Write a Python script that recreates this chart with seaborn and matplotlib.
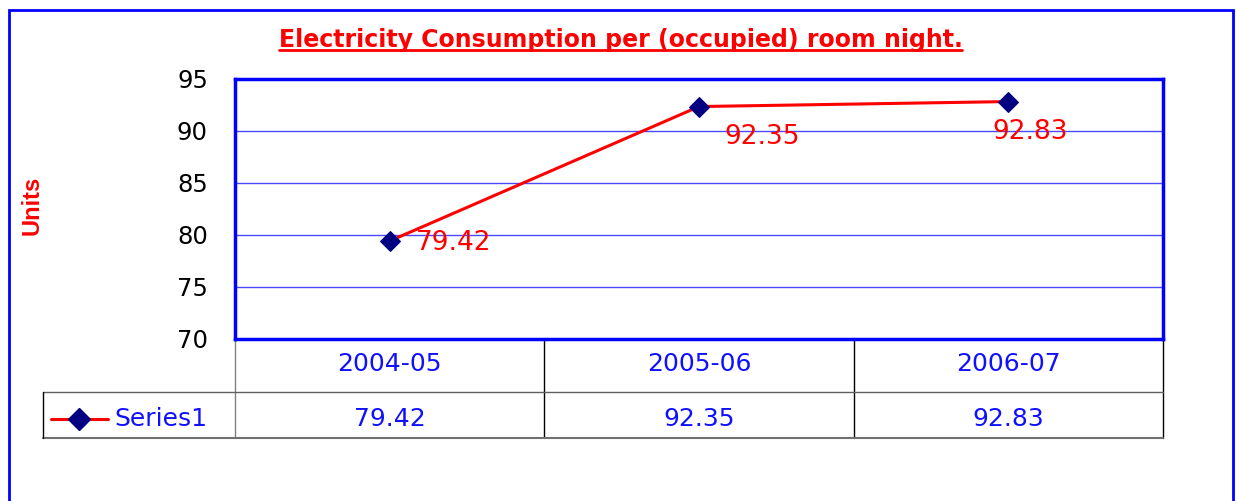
import matplotlib
matplotlib.use("Agg")
import matplotlib.pyplot as plt
import matplotlib.transforms as mtransforms
import seaborn as sns
import pandas as pd

# data
years = ["2004-05", "2005-06", "2006-07"]
values = [79.42, 92.35, 92.83]
yticks = [70, 75, 80, 85, 90, 95]
series_name = "Series1"
title = "Electricity Consumption per (occupied) room night."

# where Excel put each data label, in pixels from its point
label_dx = [26, 25, -16]
label_dy = [-2, -30, -30]

df = pd.DataFrame({"year": years, "units": values})

sns.set_style("white")
plt.rcParams["font.family"] = ["DejaVu Sans"]

W, H = 1236, 501
fig = plt.figure(figsize=(W / 100, H / 100), dpi=100)
px = 72 / 100  # points per pixel

# outer chart frame
fig.patches.append(plt.Rectangle((8.5 / W, -0.1), (1233 - 8.5) / W, 1.1 - 10 / H,
                                 transform=fig.transFigure, fill=False,
                                 edgecolor="#0000ff", lw=2))

ax = fig.add_axes([235 / W, (H - 339) / H, 928 / W, 260 / H])
sns.lineplot(data=df, x="year", y="units", ax=ax, color="#ff0000", lw=2.2,
             marker="D", markersize=10.5, markerfacecolor="#000080",
             markeredgecolor="#000080", sort=False, zorder=3)

ax.set_xlim(-0.5, 2.5)
ax.set_ylim(70, 95)
ax.set_yticks(yticks)
ax.set_xticks([])
ax.set_xlabel("")
ax.set_ylabel("")
ax.tick_params(axis="y", labelsize=17.5, labelcolor="black", length=10 * px,
               width=1, color="#404040", pad=17 * px)
for y in yticks[1:-1]:
    ax.axhline(y, color="#4a4aff", lw=1, zorder=0)
for s in ax.spines.values():
    s.set_color("#0000ff")
    s.set_linewidth(2.5)

fig.text(32 / W, (H - 205) / H, "Units", rotation=90, color="#ff0000",
         fontsize=17, fontweight="bold", family="Liberation Sans",
         ha="center", va="center")

# data labels
for i, v in enumerate(values):
    ax.annotate(f"{v:.2f}", (i, v), xytext=(label_dx[i] * px, label_dy[i] * px),
                textcoords="offset points", color="#ff0000", fontsize=19,
                ha="left", va="center")

# data table under the plot
trans = mtransforms.blended_transform_factory(ax.transData, ax.transAxes)
col_w = 928 / 3
def dx(xpix):
    return (xpix - 235) / col_w - 0.5
r1, r2 = -53 / 260, -99 / 260
leg_left = dx(43)
kw = dict(transform=trans, clip_on=False, lw=1)
ax.plot([-0.5, -0.5], [0, r2], color="#808080", **kw)
for xb in [0.5, 1.5, 2.5]:
    ax.plot([xb, xb], [0, r2], color="black", **kw)
ax.plot([leg_left, 2.5], [r1, r1], color="#606060", **kw)
ax.plot([leg_left, 2.5], [r2, r2], color="#707070", lw=1.5, transform=trans, clip_on=False)
ax.plot([leg_left, leg_left], [r1, r2], color="black", **kw)

row1_y = -25 / 260
row2_y = -80 / 260
for i, (yr, v) in enumerate(zip(years, values)):
    ax.text(i, row1_y, yr, transform=trans, color="#1010ff", fontsize=18,
            ha="center", va="center")
    ax.text(i, row2_y, f"{v:.2f}", transform=trans, color="#1010ff",
            fontsize=18, ha="center", va="center")

# legend key in the table
ax.plot([dx(51), dx(108)], [row2_y, row2_y], color="#ff0000", lw=2.2,
        transform=trans, clip_on=False)
ax.plot([dx(79.5)], [row2_y], marker="D", ms=11, color="#000080",
        transform=trans, clip_on=False)
ax.text(dx(114), row2_y, series_name, transform=trans, color="#1010ff",
        fontsize=18, ha="left", va="center")

# title with underline, sized to span the same width as the original
t = fig.text(620.5 / W, (H - 47) / H, title, color="#ff0000", fontsize=16,
             fontweight="bold", ha="center", va="baseline")
fig.canvas.draw()
w = t.get_window_extent().width
t.set_fontsize(16 * 685 / w)
fig.canvas.draw()
bb = t.get_window_extent().transformed(fig.transFigure.inverted())
fig.add_artist(plt.Line2D([bb.x0, bb.x1], [(H - 50) / H] * 2,
                          color="#ff0000", lw=2, transform=fig.transFigure))

fig.savefig("out.png", dpi=100)
